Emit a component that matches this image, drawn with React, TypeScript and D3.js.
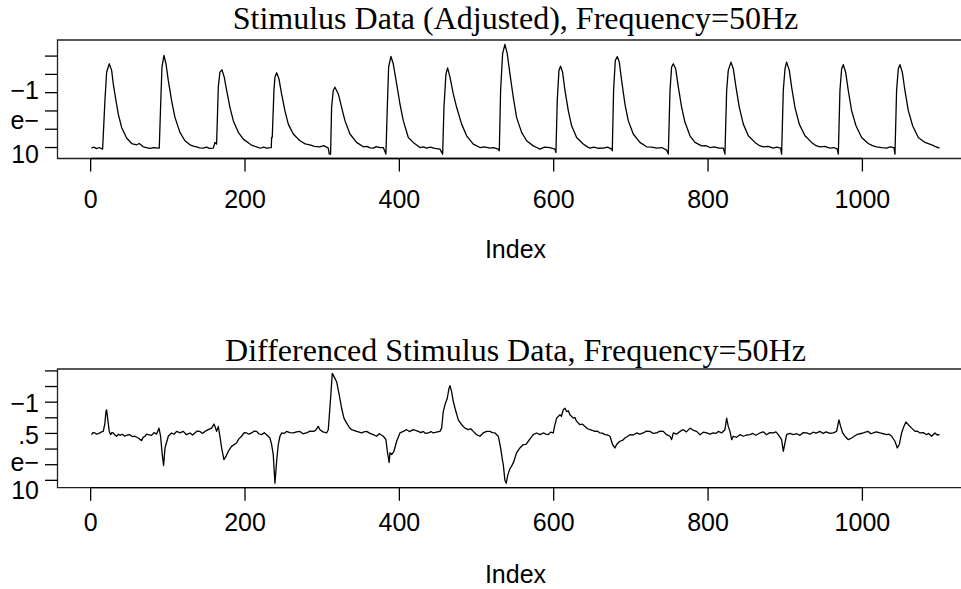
import React from "react";
import * as d3 from "d3";

// ---- data ----
// [index, value] pairs, top panel (stimulus), values in axis tick units
const stimulus: [number, number][] = [
  [1, -0.03], [4, 0.02], [7.7, -0.06], [11, 0.0], [15.5, -0.09], [18.5, 2.57], [20.7, 4.12], [24.1, 4.58], [27.2, 4.22], [29.3, 3.48], [32.8, 2.57], [35.8, 1.83], [40.1, 1.1], [46.6, 0.52], [53.1, 0.22], [59.6, 0.15], [63, 0.22], [68.2, 0.04], [72, 0.0], [76.8, -0.05], [82, 0.0], [87.6, -0.03],
  [88.9, -0.03], [90.6, 2.2], [92.4, 4.4], [95, 5.04], [97.6, 4.58], [100.6, 3.67], [104.9, 2.57], [109.2, 1.65], [115.7, 0.83], [122.2, 0.37], [128.7, 0.15], [133, 0.08], [137.3, 0.04], [141, -0.02], [145.9, -0.03], [150, 0.02], [154, -0.05], [158.9, -0.03], [161.1, 0.28],
  [163.2, 0.19], [165.4, 3.3], [167.5, 4.12], [170.1, 4.25], [173.1, 3.85], [176.2, 3.12], [180.5, 2.2], [184.8, 1.47], [191.3, 0.83], [197.8, 0.46], [206.4, 0.19], [210, 0.1], [215, 0.04], [220, -0.04], [224, 0.02], [228, -0.03], [234, 0.0], [234.5, 0.55],
  [235.3, 0.55], [237.5, 3.12], [238.8, 3.85], [241, 4.09], [244, 3.76], [247.4, 2.93], [251.7, 2.02], [256.1, 1.28], [262.5, 0.74], [271.2, 0.37], [278, 0.2], [284.1, 0.15], [290, 0.06], [297.1, 0.04], [302, 0.1], [307.9, -0.03], [309.2, -0.36],
  [310.9, -0.36], [312.2, 2.2], [314.4, 3.12], [316.5, 3.3], [320.9, 2.93], [325.2, 2.2], [329.5, 1.47], [336, 0.74], [344.6, 0.28], [353.2, 0.04], [358, 0.06], [362, -0.02], [366.2, -0.03], [370, 0.05], [374.8, 0.0], [379.2, 0.0],
  [382.6, -0.36], [384.4, 2.2], [386.1, 4.4], [389.1, 4.98], [392.1, 4.58], [396.5, 3.48], [400.8, 2.38], [405.1, 1.47], [411.6, 0.55], [418, 0.28], [426.7, 0.0], [431, 0.04], [435.3, -0.03], [440, 0.02], [446, -0.05], [452.6, -0.09],
  [456.1, -0.36], [457.8, 2.2], [460.4, 4.03], [462.5, 4.36], [465.6, 3.85], [469.9, 2.93], [474.2, 2.2], [480.7, 1.28], [487.2, 0.64], [495.8, 0.19], [504.4, 0.0], [510, 0.04], [517.4, -0.03], [522, 0.0], [528.2, -0.09],
  [529.5, -0.18], [531.2, 3.12], [533.8, 5.13], [536.8, 5.64], [539.8, 5.13], [543.3, 4.03], [547.6, 2.75], [551.9, 1.65], [558.4, 0.83], [564.9, 0.37], [573.5, 0.09], [578, 0.0], [582.2, -0.09], [588, 0.02], [595.1, 0.0], [601.6, -0.09],
  [602.9, -0.27], [604.6, 2.57], [606.8, 4.22], [608.9, 4.45], [611.5, 4.12], [614.6, 3.12], [618.9, 2.02], [623.2, 1.19], [629.7, 0.55], [638.3, 0.19], [643, 0.05], [647, -0.03], [652, 0.02], [658, -0.04], [664.2, -0.03], [670, 0.02], [675, -0.09],
  [675.9, -0.18], [677.6, 3.12], [679.8, 4.76], [682.4, 4.98], [685, 4.67], [688, 3.67], [692.3, 2.38], [696.6, 1.47], [703.1, 0.74], [711.7, 0.28], [720.4, 0.04], [727, 0.02], [733.3, -0.03], [740, 0.0], [746.3, -0.14],
  [748.5, -0.36], [750.7, 3.12], [752.8, 4.4], [755, 4.58], [758, 4.31], [761.5, 3.3], [765.8, 2.2], [770.1, 1.38], [776.6, 0.64], [783, 0.28], [791.7, 0.09], [797, 0.1], [802.5, 0.0], [808, 0.04], [814, -0.03], [819.8, -0.03],
  [821.9, -0.36], [824.1, 3.12], [826.2, 4.22], [829.7, 4.67], [832.7, 4.31], [836.2, 3.3], [840.5, 2.2], [845.7, 1.28], [852.2, 0.64], [860.8, 0.28], [866, 0.12], [871.6, 0.04], [878, 0.06], [884.5, -0.03], [889, 0.02], [894, -0.03],
  [895.3, -0.36], [897.5, 3.12], [899.7, 4.31], [901.8, 4.67], [905.3, 4.22], [908.3, 3.3], [912.6, 2.2], [918.2, 1.28], [925.6, 0.64], [934.2, 0.28], [940, 0.1], [945, 0.04], [951, 0.06], [958, -0.03], [963, 0.0], [967.5, -0.09],
  [968.8, -0.36], [970.9, 3.12], [973.1, 4.31], [975.2, 4.53], [978.3, 4.12], [981.7, 3.12], [986, 2.02], [991.7, 1.19], [999, 0.55], [1007.6, 0.22], [1013, 0.1], [1018.4, 0.04], [1025, 0.0], [1031.4, -0.03], [1036, 0.03], [1040.9, 0.0],
  [1042.2, -0.36], [1044.3, 3.12], [1046.5, 4.31], [1048.7, 4.53], [1051.7, 4.12], [1055.1, 3.12], [1059.5, 2.02], [1065.1, 1.19], [1072.4, 0.55], [1081.1, 0.28], [1089.7, 0.15], [1094, 0.06], [1100, -0.03],
];

// bottom panel (differenced stimulus)
const differenced: [number, number][] = [
  [1, 2.92], [3, 3.05], [5.6, 3.03], [8, 2.95], [12, 3.03], [14, 3.1], [16.4, 3.13], [18.5, 3.66], [19.8, 4.4], [20.7, 4.51], [22, 3.98], [24.1, 3.13], [25.9, 2.92], [27.5, 3.05], [29.3, 3.03], [31.5, 2.9], [33.6, 2.82], [36, 2.95], [38, 2.88], [41, 2.95], [44.4, 2.82], [47.5, 2.9], [50.9, 2.92], [54, 2.8], [57.4, 2.82], [61.7, 2.71], [66, 2.54], [68, 2.75], [70.4, 2.82], [72.5, 2.95], [74.7, 2.92], [79, 2.88], [82, 3.05], [85.5, 2.96], [88.5, 3.34], [90.6, 2.82], [92.8, 1.64], [94.5, 0.95], [96.3, 2.06], [97.6, 2.29], [100.6, 2.82], [104.9, 3.03], [108, 2.95], [111.4, 3.13], [115.7, 3.03], [120, 3.13], [124.3, 2.92], [128.7, 3.03], [132, 2.9], [135.1, 3.03], [138, 3.15], [141.6, 3.13], [145, 3.0], [148.1, 3.13], [152.4, 3.24], [156.7, 3.34], [159.8, 3.6], [161.1, 3.45], [163.2, 3.13], [165.4, 3.45], [167.5, 2.82], [169.7, 2.07], [172.7, 1.33], [175.3, 1.53], [178.3, 1.85], [182.6, 2.17], [189.1, 2.39], [192, 2.65], [195.6, 2.82], [199, 3.05], [202.1, 3.03], [205, 2.95], [208.6, 3.03], [212, 3.15], [215, 3.13], [218, 2.98], [221.5, 2.92], [225, 3.05], [228, 2.92], [232.3, 2.71], [234.5, 2.29], [236.6, 1.64], [238.8, -0.19], [241, 1.22], [243.1, 2.29], [245.3, 2.82], [247.4, 3.03], [250.5, 3.0], [253.9, 3.13], [258, 3.05], [262.6, 3.03], [267, 3.1], [271.2, 3.13], [275, 2.98], [279.8, 3.03], [284, 3.15], [288.5, 3.13], [291.5, 3.2], [294.9, 3.45], [297.1, 3.24], [301, 3.1], [305.7, 3.03], [307.9, 3.24], [310.9, 5.25], [313.1, 6.84], [314.4, 6.73], [316.5, 6.52], [318.7, 6.31], [322.1, 5.46], [325.2, 4.61], [328.2, 3.98], [331.7, 3.66], [335, 3.4], [338.1, 3.24], [341, 3.2], [344.6, 3.13], [348, 3.08], [351.1, 3.03], [354, 3.1], [357.6, 3.13], [362, 3.0], [366.2, 2.92], [370.5, 2.82],
  [374, 2.98], [379.2, 2.82], [382.6, 2.6], [384.4, 1.86], [386.8, 1.14], [387.8, 1.76], [390, 1.65], [393, 1.86], [396.5, 2.5], [400.8, 3.03], [405.1, 3.13], [409.4, 3.24], [413, 3.12], [418, 3.24], [424.5, 3.13], [428, 3.05], [431, 3.13], [434, 3.0], [437.5, 3.03], [441, 3.12], [444, 3.03], [448, 3.08], [452.6, 3.13], [454.8, 3.34], [456.9, 4.4], [459.1, 4.83], [462.1, 5.25], [464.3, 5.88], [465.6, 6.05], [467.7, 5.67], [469.9, 5.04], [473.3, 4.4], [476.4, 3.87], [480.7, 3.56], [485, 3.34], [489.3, 3.24], [492.5, 3.3], [495.8, 3.13], [500.1, 2.92], [504.4, 2.82], [508.7, 3.03], [513.1, 3.13], [517.4, 3.13], [520.5, 3.05], [523.9, 3.03], [528.2, 2.82], [531.2, 2.07], [533.8, 1.23], [534.7, 1.0], [536.8, 0.0], [538.5, -0.19], [540.3, 0.3], [543.3, 0.75], [545.4, 0.9], [548.5, 1.23], [551.9, 1.76], [556.2, 2.07], [560.6, 2.29], [564, 2.3], [567.1, 2.5], [570, 2.7], [573.5, 2.92], [577.8, 3.03], [582.2, 2.92], [586.5, 3.03], [590, 2.95], [593, 2.92], [596, 3.08], [599.4, 3.03], [601.6, 3.56], [603.8, 3.98], [608.1, 4.19], [610, 4.1], [612.4, 4.51], [614.6, 4.61], [616.7, 4.4], [619, 4.45], [621, 4.19], [625.4, 3.98], [627.5, 4.02], [629.7, 3.77], [634, 3.56], [637, 3.6], [640.5, 3.45], [644, 3.3], [647, 3.24], [650, 3.2], [653.4, 3.13], [656.5, 3.15], [659.9, 3.03], [663, 3.02], [666.4, 2.92], [670, 2.9], [672.9, 2.82], [676.3, 2.29], [679.3, 2.07], [681.5, 2.29], [685.8, 2.5], [689, 2.55], [692.3, 2.71], [695.5, 2.8], [698.8, 2.92], [703, 2.9], [707.4, 3.03], [711.5, 2.95], [716.1, 3.03], [720, 3.15], [724.7, 3.13], [729, 3.0], [733.3, 3.03], [737.5, 3.15], [742, 3.13], [746.3, 2.92],
  [750.7, 2.82], [752.8, 2.6], [755, 3.03], [759, 2.95], [763.6, 3.13], [767.9, 3.24], [772, 3.1], [776.6, 3.34], [781, 3.2], [785.2, 3.13], [789.5, 2.92], [794, 3.08], [798.2, 3.03], [802.5, 2.95], [806.8, 3.03], [810, 3.0], [813.3, 3.13], [817.6, 3.03], [821.9, 3.24], [824.1, 3.98], [826.2, 3.45], [828.4, 3.13], [830.6, 2.6], [832.7, 2.82], [837, 2.75], [841.4, 2.92], [845.7, 2.82], [850, 2.9], [854.3, 2.92], [858, 3.0], [862, 2.88], [867.3, 3.03], [871.5, 3.1], [875.9, 2.92], [880, 3.05], [884.5, 3.03], [888, 3.1], [891, 2.92], [895.3, 2.6], [897.5, 1.86], [899.7, 2.39], [901.8, 2.92], [906, 3.0], [910.5, 2.92], [915, 2.98], [919, 2.88], [923, 3.05], [927.7, 3.03], [932, 2.95], [936, 3.08], [940, 3.02], [945, 3.13], [949, 3.0], [953, 3.1], [958, 3.0], [962.3, 3.03], [966.6, 3.13], [969.6, 3.87], [971.8, 3.45], [974.4, 3.03], [977.4, 2.82], [981.7, 2.6], [986, 2.71], [992.5, 2.92], [997, 2.98], [1001.2, 3.03], [1004, 3.08], [1007.6, 3.13], [1011, 2.98], [1014.1, 3.03], [1018, 3.1], [1022.8, 3.03], [1027, 2.98], [1031.4, 2.92], [1034.5, 2.95], [1037.9, 2.82], [1042.2, 2.5], [1045.2, 2.07], [1047.8, 2.29], [1050.8, 3.03], [1053.8, 3.45], [1056.4, 3.73], [1059.5, 3.56], [1063.8, 3.34], [1068.1, 3.13], [1071, 3.15], [1074.6, 3.03], [1079, 3.05], [1083.2, 2.92], [1086, 3.0], [1089.7, 2.82], [1094, 3.03], [1097, 2.9], [1100, 2.92],
];

const xTicks = [0, 200, 400, 600, 800, 1000];
const topYTicks = [0, 1, 2, 3, 4, 5];
const bottomYTicks = [0, 1, 2, 3, 4, 5, 6, 7];
const topYLabelText = ["\u22121", "e\u2212", "10"];
const topYLabelAt = [2.68, 1.03, -0.84];
const bottomYLabelText = ["\u22121", ".5", "e\u2212", "10"];
const bottomYLabelAt = [4.4, 2.35, 0.6, -1.2];
const titles = ["Stimulus Data (Adjusted), Frequency=50Hz", "Differenced Stimulus Data, Frequency=50Hz"];
const xLabel = "Index";

const W = 961;
const H = 589;
const SANS = "'Liberation Sans', Arial, Helvetica, sans-serif";
const SERIF = "'Liberation Serif', 'Times New Roman', serif";
const AXIS_FONT = 25;
const TITLE_FONT = 32;

function rExtent(vals: number[]): [number, number] {
  const [lo, hi] = d3.extent(vals) as [number, number];
  const pad = (hi - lo) * 0.04;
  return [lo - pad, hi + pad];
}

type PanelProps = {
  data: [number, number][];
  top: number;
  bottom: number;
  yTicks: number[];
  labelText: string[];
  labelAt: number[];
  title: string;
  titleY: number;
  tickLabelY: number;
  xLabelY: number;
};

function Panel(p: PanelProps) {
  const left = 57.5;
  const right = 973.5;
  const x = d3.scaleLinear().domain(rExtent(p.data.map((d) => d[0]))).range([left, right]);
  const y = d3.scaleLinear().domain(rExtent(p.data.map((d) => d[1]))).range([p.bottom, p.top]);
  const line = d3
    .line<[number, number]>()
    .x((d) => x(d[0]))
    .y((d) => y(d[1]));
  const cx = (left + right) / 2;
  return (
    <g>
      <text x={cx} y={p.titleY} textAnchor="middle" fontFamily={SERIF} fontSize={TITLE_FONT} fill="#000">
        {p.title}
      </text>
      <path d={line(p.data) || ""} fill="none" stroke="#000" strokeWidth={1.3} strokeLinejoin="round" />
      {/* box */}
      <path d={`M${right},${p.top}H${left}V${p.bottom}H${right}`} fill="none" stroke="#222" strokeWidth={1.3} />
      {/* y axis */}
      {p.yTicks.map((t) => (
        <line key={t} x1={left - 12.5} x2={left} y1={y(t)} y2={y(t)} stroke="#000" strokeWidth={1.3} />
      ))}
      {p.labelText.map((s, i) => (
        <text key={i} x={39} y={y(p.labelAt[i])} textAnchor="end" fontFamily={SANS} fontSize={AXIS_FONT} fill="#000">
          {s}
        </text>
      ))}
      {/* x axis */}
      <line x1={x(xTicks[0])} x2={x(xTicks[xTicks.length - 1])} y1={p.bottom} y2={p.bottom} stroke="#000" strokeWidth={1.3} />
      {xTicks.map((t) => (
        <g key={t}>
          <line x1={x(t)} x2={x(t)} y1={p.bottom} y2={p.bottom + 13} stroke="#000" strokeWidth={1.3} />
          <text x={x(t)} y={p.tickLabelY} textAnchor="middle" fontFamily={SANS} fontSize={AXIS_FONT} fill="#000">
            {t}
          </text>
        </g>
      ))}
      <text x={cx} y={p.xLabelY} textAnchor="middle" fontFamily={SANS} fontSize={AXIS_FONT} fill="#000">
        {xLabel}
      </text>
    </g>
  );
}

export default function App() {
  return (
    <svg
      width={W}
      height={H}
      viewBox={`0 0 ${W} ${H}`}
      style={{ position: "absolute", left: 0, top: 0, background: "#fff", display: "block" }}
    >
      <rect x={0} y={0} width={W} height={H} fill="#fff" />
      <Panel
        data={stimulus}
        top={40}
        bottom={158.5}
        yTicks={topYTicks}
        labelText={topYLabelText}
        labelAt={topYLabelAt}
        title={titles[0]}
        titleY={28.5}
        tickLabelY={208}
        xLabelY={258}
      />
      <Panel
        data={differenced}
        top={369}
        bottom={487.7}
        yTicks={bottomYTicks}
        labelText={bottomYLabelText}
        labelAt={bottomYLabelAt}
        title={titles[1]}
        titleY={361}
        tickLabelY={531}
        xLabelY={583}
      />
    </svg>
  );
}
